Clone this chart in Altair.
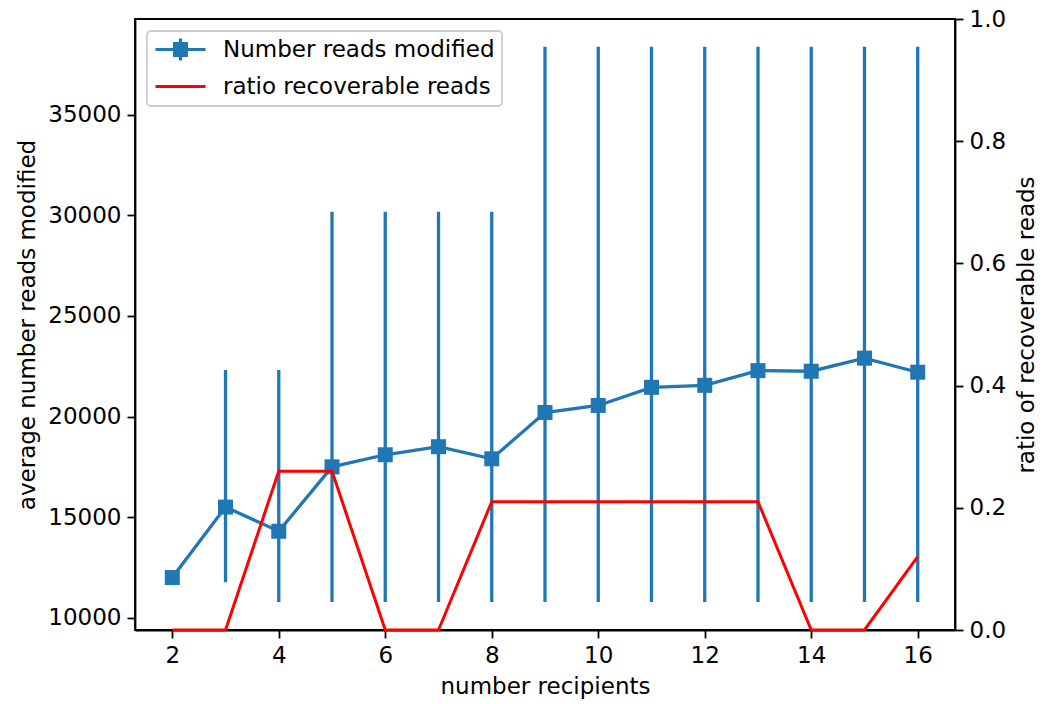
import altair as alt
import pandas as pd

# ---- data ----
recipients = [2, 3, 4, 5, 6, 7, 8, 9, 10, 11, 12, 13, 14, 15, 16]
avg_reads = [12000, 15500, 14300, 17500, 18100, 18500, 17900, 20200, 20550,
             21450, 21550, 22280, 22250, 22900, 22200]
err_low = [12000, 11770, 10780, 10780, 10780, 10780, 10780, 10780, 10780,
           10780, 10780, 10780, 10780, 10780, 10780]
err_high = [12000, 22310, 22310, 30170, 30170, 30170, 30170, 38370, 38370,
            38370, 38370, 38370, 38370, 38370, 38370]
ratio = [0.0, 0.0, 0.26, 0.26, 0.0, 0.0, 0.21, 0.21, 0.21, 0.21, 0.21, 0.21,
         0.0, 0.0, 0.12]
series_names = ["Number reads modified", "ratio recoverable reads"]
x_ticks = [2, 4, 6, 8, 10, 12, 14, 16]
left_ticks = [10000, 15000, 20000, 25000, 30000, 35000]
right_ticks = [0.0, 0.2, 0.4, 0.6, 0.8, 1.0]

BLUE = "#1f77b4"
RED = "#ff0000"
FONT = "DejaVu Sans"
FS = 23

df = pd.DataFrame({
    "recipients": recipients,
    "avg": avg_reads,
    "low": err_low,
    "high": err_high,
    "ratio": ratio,
})

xscale = alt.Scale(domain=[1.3, 16.7], nice=False, zero=False)
yscale = alt.Scale(domain=[9395, 39747], nice=False, zero=False)
rscale = alt.Scale(domain=[0, 1], nice=False, zero=False)

x_axis = alt.Axis(values=x_ticks, title="number recipients", format="d",
                  labelPadding=6, titlePadding=8)
left_axis = alt.Axis(values=left_ticks, title="average number reads modified",
                     format="d", labelPadding=6, titlePadding=8)
right_axis = alt.Axis(orient="right", values=right_ticks, format=".1f",
                      title="ratio of recoverable reads", titleAngle=270,
                      titleBaseline="top", labelPadding=6, titlePadding=10)

X = alt.X("recipients:Q", scale=xscale, axis=x_axis)

base = alt.Chart(df)

errbars = base.mark_rule(color=BLUE, strokeWidth=3.3).encode(
    x=X,
    y=alt.Y("low:Q", scale=yscale, axis=left_axis),
    y2="high:Q",
)

line = base.mark_line(color=BLUE, strokeWidth=3.3).encode(
    x=X,
    y=alt.Y("avg:Q", scale=yscale, axis=left_axis),
)

pts = base.mark_point(shape="square", filled=True, size=225, color=BLUE,
                      opacity=1).encode(
    x=X,
    y=alt.Y("avg:Q", scale=yscale, axis=left_axis),
)

# legend symbols (custom paths, unit = sqrt(size)/2 px)
blue_sym = ("M-1,-0.16H4V0.16H-1Z"
            "M1.34,-1.1H1.66V1.1H1.34Z"
            "M0.75,-0.75H2.25V0.75H0.75Z")
red_sym = "M-1,-0.14H4V0.14H-1Z"

leg = dict(title=None, orient="top-left", offset=12, symbolSize=400,
           symbolStrokeWidth=0, labelOffset=46, padding=7, rowPadding=13,
           labelFontSize=FS, labelFont=FONT, labelColor="black",
           labelLimit=0, cornerRadius=4, strokeColor="#cccccc",
           fillColor="white")

legend_layer = base.transform_calculate(series="'x'").transform_filter(
    "false").mark_point(filled=True, opacity=1).encode(
    x=X,
    y=alt.Y("avg:Q", scale=yscale, axis=left_axis),
    color=alt.Color("series:N",
                    scale=alt.Scale(domain=series_names, range=[BLUE, RED]),
                    legend=alt.Legend(**leg)),
    shape=alt.Shape("series:N",
                    scale=alt.Scale(domain=series_names,
                                    range=[blue_sym, red_sym]),
                    legend=alt.Legend(**leg)),
)

red_line = base.mark_line(color=RED, strokeWidth=3).encode(
    x=X,
    y=alt.Y("ratio:Q", scale=rscale, axis=right_axis),
)

left = alt.layer(errbars, line, pts, legend_layer)

chart = alt.layer(left, red_line).resolve_scale(y="independent").properties(
    width=820,
    height=611,
    autosize=alt.AutoSizeParams(type="none"),
    padding={"left": 135, "top": 19, "right": 101, "bottom": 74},
    background="white",
).configure_view(
    stroke="black", strokeWidth=1.8
).configure_axis(
    labelFont=FONT, titleFont=FONT, labelFontSize=FS, titleFontSize=FS,
    labelColor="black", titleColor="black", titleFontWeight="normal",
    domainColor="black", domainWidth=1.8, tickColor="black", tickWidth=1.8,
    tickSize=8, grid=False,
).configure_legend(
    strokeWidth=1.8,
)

chart.save("out.html", embed_options={"renderer": "svg", "actions": False})
